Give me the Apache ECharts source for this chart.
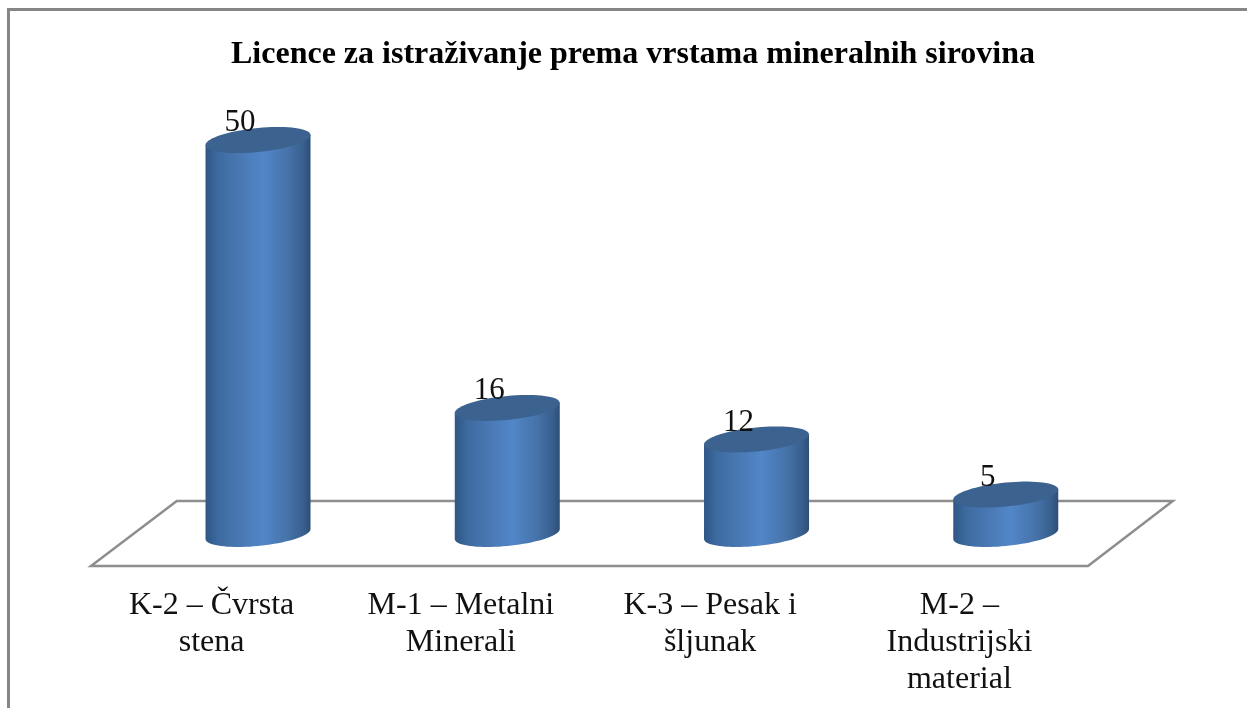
<!DOCTYPE html>
<html><head><meta charset="utf-8">
<style>html,body{margin:0;padding:0;background:#fff}#c{width:1247px;height:708px}</style>
<script src="https://cdn.jsdelivr.net/npm/echarts@6/dist/echarts.min.js"></script>
</head><body><div id="c"></div>
<script>
const titleText = 'Licence za istraživanje prema vrstama mineralnih sirovina';
const categories = ['K-2 – Čvrsta\nstena', 'M-1 – Metalni\nMinerali', 'K-3 – Pesak i\nšljunak', 'M-2 –\nIndustrijski\nmaterial'];
const values = [50, 16, 12, 5];
const FONT = '"Liberation Serif","Times New Roman",serif';
const depthX = 42.4, depthFront = 32, depthBack = 33, skew = 5, halfW = 52.5, halfH = 13;
const chart = echarts.init(document.getElementById('c'), null, {renderer:'canvas'});

function ellipsePts(cx, cy, from, to, n) {
  const k = Math.sqrt(halfH*halfH - skew*skew), pts = [];
  for (let i = 0; i <= n; i++) {
    const t = from + (to-from)*i/n;
    pts.push([cx + halfW*Math.cos(t), cy - skew*Math.cos(t) + k*Math.sin(t)]);
  }
  return pts;
}
const bodyFill = new echarts.graphic.LinearGradient(0,0,1,0,[
  {offset:0,color:'#2f5686'},{offset:0.12,color:'#3d6a9f'},{offset:0.35,color:'#4a7ab5'},
  {offset:0.55,color:'#5186c8'},{offset:0.78,color:'#4673a9'},{offset:0.93,color:'#38608f'},{offset:1,color:'#2e4e76'}]);

chart.setOption({
  animation:false,
  backgroundColor:'#fff',
  title:{text:titleText,left:628,top:34,textAlign:'center',
    textStyle:{fontFamily:FONT,fontWeight:'bold',fontSize:32,color:'#000'}},
  graphic:[{type:'rect',shape:{x:8.5,y:9.5,width:1400,height:900},silent:true,z:-1,
    style:{fill:'none',stroke:'#868686',lineWidth:3}}],
  grid:{left:91,width:997,top:140,height:394},
  xAxis:{type:'category',data:categories,
    axisLine:{show:false},axisTick:{show:false},splitLine:{show:false},
    axisLabel:{interval:0,margin:53,fontFamily:FONT,fontSize:32,lineHeight:37,color:'#111',padding:[0,8,0,0]}},
  yAxis:{type:'value',min:0,max:50,show:false},
  series:[
    {type:'custom',silent:true,z:1,data:[0],coordinateSystem:'cartesian2d',clip:false,
     encode:{x:-1,y:0},
     renderItem(params,api){
       const c=params.coordSys, b=api.coord([0,0])[1];
       return {type:'polygon',shape:{points:[
         [c.x,b+depthFront],[c.x+c.width,b+depthFront],
         [c.x+c.width+2*depthX,b-depthBack],[c.x+2*depthX+1,b-depthBack]]},
         style:{fill:'none',stroke:'#8e8e8e',lineWidth:2.5}};
     }},
    {type:'custom',silent:true,z:2,clip:false,
     data:values.map((v,i)=>[i,v]),encode:{x:0,y:1},
     renderItem(params,api){
       const top=api.coord([api.value(0),api.value(1)]), base=api.coord([api.value(0),0]);
       const cx=top[0]+depthX;
       const lower=ellipsePts(cx,base[1],Math.PI,0,40);
       const body=[[cx-halfW,top[1]+skew]].concat(lower,[[cx+halfW,top[1]-skew]]);
       return {type:'group',children:[
         {type:'polygon',shape:{points:body},style:{fill:bodyFill}},
         {type:'polygon',shape:{points:ellipsePts(cx,top[1],0,2*Math.PI,72)},style:{fill:'#3c628f'}},
         {type:'text',style:{text:String(api.value(1)),x:cx-18,y:top[1]-17,align:'center',verticalAlign:'middle',
           font:'31px '+FONT,fill:'#111'},z2:5}
       ]};
     }}
  ]
});
</script></body></html>
